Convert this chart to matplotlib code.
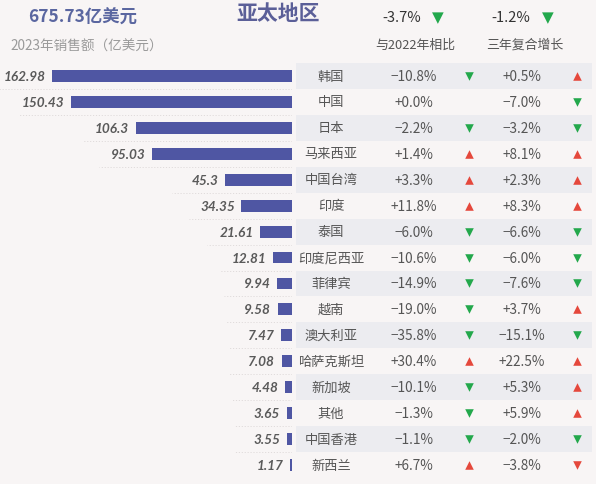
import matplotlib
matplotlib.use("Agg")
import matplotlib.pyplot as plt

plt.rcParams['font.family'] = ['Noto Sans CJK SC', 'DejaVu Sans']

# data
regions = ['韩国', '中国', '日本', '马来西亚', '中国台湾', '印度', '泰国', '印度尼西亚',
           '菲律宾', '越南', '澳大利亚', '哈萨克斯坦', '新加坡', '其他', '中国香港', '新西兰']
sales = [162.98, 150.43, 106.3, 95.03, 45.3, 34.35, 21.61, 12.81,
         9.94, 9.58, 7.47, 7.08, 4.48, 3.65, 3.55, 1.17]
sales_labels = ['162.98', '150.43', '106.3', '95.03', '45.3', '34.35', '21.61', '12.81',
                '9.94', '9.58', '7.47', '7.08', '4.48', '3.65', '3.55', '1.17']
yoy = [-10.8, 0.0, -2.2, 1.4, 3.3, 11.8, -6.0, -10.6, -14.9, -19.0, -35.8, 30.4, -10.1, -1.3, -1.1, 6.7]
cagr = [0.5, -7.0, -3.2, 8.1, 2.3, 8.3, -6.6, -6.0, -7.6, 3.7, -15.1, 22.5, 5.3, 5.9, -2.0, -3.8]
# the source draws the last down-arrow in red
cagr_red_down = ['新西兰']
total_label = '675.73亿美元'
total_yoy = -3.7
total_cagr = -1.2

BG = '#f8f5f5'
BAND = '#ececf0'
BAR = '#4f56a3'
TXT = '#555555'
UP = '#e5483c'
DOWN = '#23a84c'

W, H = 596, 485
fig = plt.figure(figsize=(W / 100, H / 100), dpi=100)
fig.patch.set_facecolor(BG)

n = len(regions)
top_px, bot_px = 64, 479
ax_bottom = 1 - bot_px / H
ax_h = (bot_px - top_px) / H


def fmt(v):
    s = '%.1f%%' % abs(v)
    return ('−' if v < 0 else '+') + s


# bar panel (bars grow leftwards)
ax = fig.add_axes([0, ax_bottom, 292 / W, ax_h])
ax.set_facecolor('none')
ys = list(range(n))
ax.barh(ys, sales, height=0.46, color=BAR)
ax.set_xlim(198.6, 0)
ax.set_ylim(n - 0.5, -0.5)
for i, (v, lab) in enumerate(zip(sales, sales_labels)):
    ax.text(v + 4.5, i, lab, ha='right', va='center', fontsize=9.8,
            family=['Lato', 'DejaVu Sans'], style='italic', fontweight='bold', color='#5a5a5a')
    ax.plot([0, v + 36], [i + 0.5, i + 0.5], color='#e0dcdc', lw=0.7, ls=(0, (1.2, 1.8)))
ax.axis('off')

# table panel
tx = fig.add_axes([296 / W, ax_bottom, 1 - 296 / W, ax_h])
tx.set_facecolor('none')
tx.set_xlim(296, 596)
tx.set_ylim(n - 0.5, -0.5)
for i in range(0, n, 2):
    tx.axhspan(i - 0.5, i + 0.5, xmin=0, xmax=(592 - 296) / 300, color=BAND, lw=0)
for i, name in enumerate(regions):
    tx.text(331, i, name, ha='center', va='center', fontsize=9.5, color=TXT, fontweight=300)
    tx.text(414, i, fmt(yoy[i]), ha='center', va='center', fontsize=9.8, color=TXT, fontweight=300)
    tx.text(522, i, fmt(cagr[i]), ha='center', va='center', fontsize=9.8, color=TXT, fontweight=300)
    if yoy[i] > 0:
        tx.scatter(469, i, marker='^', s=38, color=UP, lw=0)
    elif yoy[i] < 0:
        tx.scatter(469, i, marker='v', s=38, color=DOWN, lw=0)
    if cagr[i] > 0:
        tx.scatter(577, i, marker='^', s=38, color=UP, lw=0)
    elif cagr[i] < 0:
        c = UP if name in cagr_red_down else DOWN
        tx.scatter(577, i, marker='v', s=38, color=c, lw=0)
tx.axis('off')

# header
fig.text(83 / W, 1 - 18 / H, total_label, ha='center', va='center', fontsize=12.5,
         fontweight='bold', color='#5a66a0')
fig.text(10 / W, 1 - 47 / H, '2023年销售额（亿美元）', ha='left', va='center', fontsize=9.8,
         color='#9a9a9a', fontweight=300)
fig.text(278 / W, 1 - 13 / H, '亚太地区', ha='center', va='center', fontsize=15,
         fontweight='bold', color='#5b5f98')
fig.text(402 / W, 1 - 18 / H, fmt(total_yoy).replace('−', '-'), ha='center', va='center',
         fontsize=10.5, color='#333333')
fig.text(438 / W, 1 - 18 / H, '▼', ha='center', va='center', fontsize=11,
         family='DejaVu Sans', color=DOWN)
fig.text(511 / W, 1 - 18 / H, fmt(total_cagr).replace('−', '-'), ha='center', va='center',
         fontsize=10.5, color='#333333')
fig.text(548 / W, 1 - 18 / H, '▼', ha='center', va='center', fontsize=11,
         family='DejaVu Sans', color=DOWN)
fig.text(415 / W, 1 - 45 / H, '与2022年相比', ha='center', va='center', fontsize=9.3,
         color='#555555', fontweight=300)
fig.text(525 / W, 1 - 45 / H, '三年复合增长', ha='center', va='center', fontsize=9.3,
         color='#555555', fontweight=300)

fig.savefig('out.png', dpi=100, facecolor=BG)
